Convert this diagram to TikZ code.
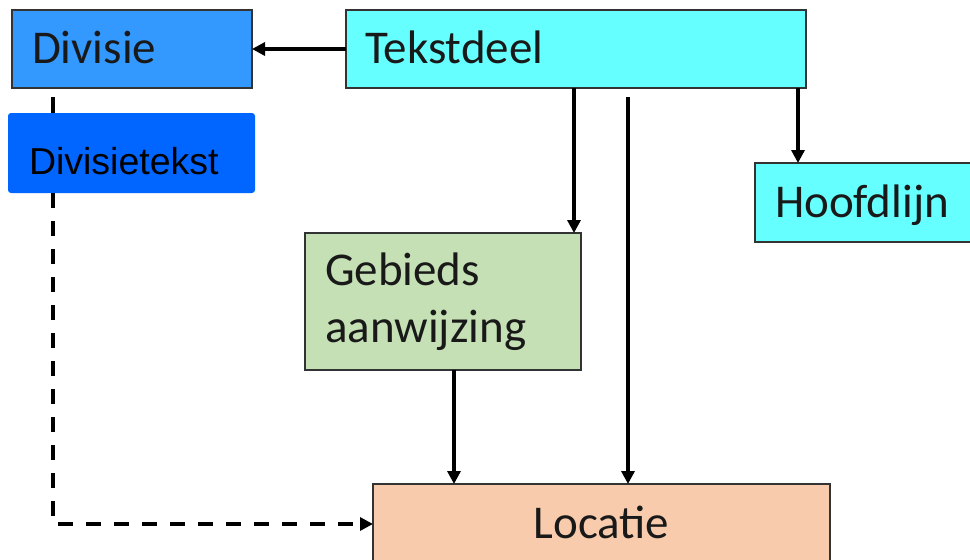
\documentclass[tikz,border=0pt]{standalone}
\usepackage{fontspec}
\setmainfont{Carlito}
\newfontfamily\arialfont{Liberation Sans}
\usetikzlibrary{arrows.meta,calc}
\definecolor{cdiv}{HTML}{3399FF}
\definecolor{ctekst}{HTML}{66FFFF}
\definecolor{cdivt}{HTML}{0066FF}
\definecolor{cgeb}{HTML}{C5E0B4}
\definecolor{cloc}{HTML}{F8CBAD}
\begin{document}
\begin{tikzpicture}[x=1pt,y=-1pt,
  box/.style={draw=black!80, line width=1.5pt, rectangle, anchor=north west,
    outer sep=0pt, inner ysep=0pt, font=\fontsize{47}{57}\selectfont, text=black!90},
  one/.style={text height=29.5pt, text depth=0pt},
  arr/.style={line width=3.3pt, -{Triangle[length=13pt,width=13pt]}},
  dasharr/.style={line width=3.3pt, dash pattern=on 15pt off 13pt, -{Triangle[length=13pt,width=13pt]}},
  plain/.style={line width=3.3pt}
]
\useasboundingbox (0,0) rectangle (970,560);

\node[box, one, minimum width=240pt, minimum height=78pt, inner xsep=20pt,
  text width=200pt, align=left, fill=cdiv] (div) at (12,10) {Divisie};
\node[box, one, minimum width=460pt, minimum height=78pt, inner xsep=19pt,
  text width=422pt, align=left, fill=ctekst] (tekst) at (346,10) {Tekstdeel};
\node[rectangle, anchor=north west, outer sep=0pt, inner ysep=0pt, inner xsep=21pt,
  rounded corners=3pt, fill=cdivt, minimum width=247pt, minimum height=80pt,
  text width=205pt, align=left, font=\arialfont\fontsize{37.5}{45}\selectfont,
  text height=42pt, text depth=0pt] (dt) at (8,113) {Divisietekst};
\node[box, one, minimum width=220pt, minimum height=79pt, inner xsep=20pt,
  text width=180pt, align=left, fill=ctekst] (hoofd) at (755,163) {Hoofdlijn};
\node[box, minimum width=276pt, minimum height=137pt, inner xsep=20pt,
  text width=236pt, align=left, fill=cgeb] (geb) at (305,233) {Gebieds\\aanwijzing};
\node[box, one, minimum width=457pt, minimum height=80pt, inner xsep=10pt,
  text width=437pt, align=center, fill=cloc] (loc) at (373,484) {Locatie};

\coordinate (c1) at (574,0);
\coordinate (c2) at (628,0);
\coordinate (c3) at (798,0);
\coordinate (c4) at (454,0);
\coordinate (c5) at (53,0);

\draw[arr] (tekst.west) -- (div.east);
\draw[arr] (tekst.south -| c1) -- (geb.north -| c1);
\draw[arr] ($(tekst.south -| c2)+(0,9)$) -- (loc.north -| c2);
\draw[arr] (tekst.south -| c3) -- (hoofd.north -| c3);
\draw[arr] (geb.south -| c4) -- (loc.north -| c4);
\draw[plain] ($(div.south -| c5)+(0,9)$) -- (dt.north -| c5);
\draw[dasharr] (dt.south -| c5) |- (loc.west);
\end{tikzpicture}
\end{document}
